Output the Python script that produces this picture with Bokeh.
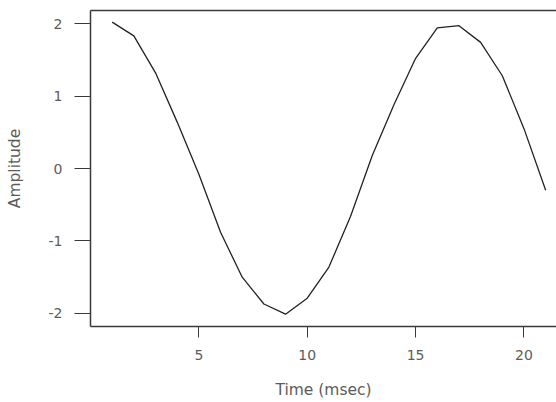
from bokeh.plotting import figure
from bokeh.models import Range1d, FixedTicker, LinearAxis
from bokeh.embed import file_html
from bokeh.resources import INLINE

# Data
time_ms = [1, 2, 3, 4, 5, 6, 7, 8, 9, 10, 11, 12, 13, 14, 15, 16, 17, 18, 19, 20, 21]
amplitude = [2.02, 1.83, 1.32, 0.64, -0.08, -0.88, -1.50, -1.87, -2.01, -1.79, -1.36,
             -0.66, 0.18, 0.88, 1.52, 1.94, 1.97, 1.74, 1.28, 0.55, -0.30]
x_ticks = [5, 10, 15, 20]
y_ticks = [-2, -1, 0, 1, 2]

FONT = "DejaVu Sans"
AXIS_COL = "#3a3a3a"
TEXT_COL = "#5c5c5c"

p = figure(width=556, height=401, output_backend="svg", toolbar_location=None,
           x_range=Range1d(0.0, 21.5), y_range=Range1d(-2.18, 2.18),
           min_border_left=90, min_border_right=0, min_border_top=10, min_border_bottom=75)
p.outline_line_color = None
p.xgrid.visible = False
p.ygrid.visible = False
p.background_fill_color = "white"
p.border_fill_color = "white"

p.line(time_ms, amplitude, line_color="#222222", line_width=1.3)

# x axis
xa = p.xaxis[0]
xa.ticker = FixedTicker(ticks=x_ticks)
xa.major_tick_out = 11
xa.major_tick_in = 0
xa.minor_tick_out = 0
xa.minor_tick_in = 0
xa.major_label_standoff = 12
xa.axis_line_color = AXIS_COL
xa.axis_line_width = 1.5
xa.major_tick_line_color = AXIS_COL
xa.major_label_text_font = FONT
xa.major_label_text_font_size = "14px"
xa.major_label_text_color = TEXT_COL
xa.axis_label = "Time (msec)"
xa.axis_label_standoff = 18
xa.axis_label_text_font = FONT
xa.axis_label_text_font_size = "15.5px"
xa.axis_label_text_font_style = "normal"
xa.axis_label_text_color = TEXT_COL

# y axis
ya = p.yaxis[0]
ya.ticker = FixedTicker(ticks=y_ticks)
ya.major_label_overrides = {t: str(t) for t in y_ticks}
ya.major_tick_out = 16
ya.major_tick_in = 0
ya.minor_tick_out = 0
ya.minor_tick_in = 0
ya.major_label_standoff = 12
ya.axis_line_color = AXIS_COL
ya.axis_line_width = 1.5
ya.major_tick_line_color = AXIS_COL
ya.major_label_text_font = FONT
ya.major_label_text_font_size = "14px"
ya.major_label_text_color = TEXT_COL
ya.major_label_orientation = "horizontal"
ya.axis_label = "Amplitude"
ya.axis_label_standoff = 22
ya.axis_label_text_font = FONT
ya.axis_label_text_font_size = "15.5px"
ya.axis_label_text_font_style = "normal"
ya.axis_label_text_color = TEXT_COL

# top border of the box
top = LinearAxis(ticker=FixedTicker(ticks=[]), major_label_text_font_size="0px",
                 axis_line_color=AXIS_COL, axis_line_width=1.5,
                 major_tick_out=0, major_tick_in=0, minor_tick_out=0, minor_tick_in=0)
p.add_layout(top, "above")

open("out.html", "w").write(file_html(p, INLINE))
